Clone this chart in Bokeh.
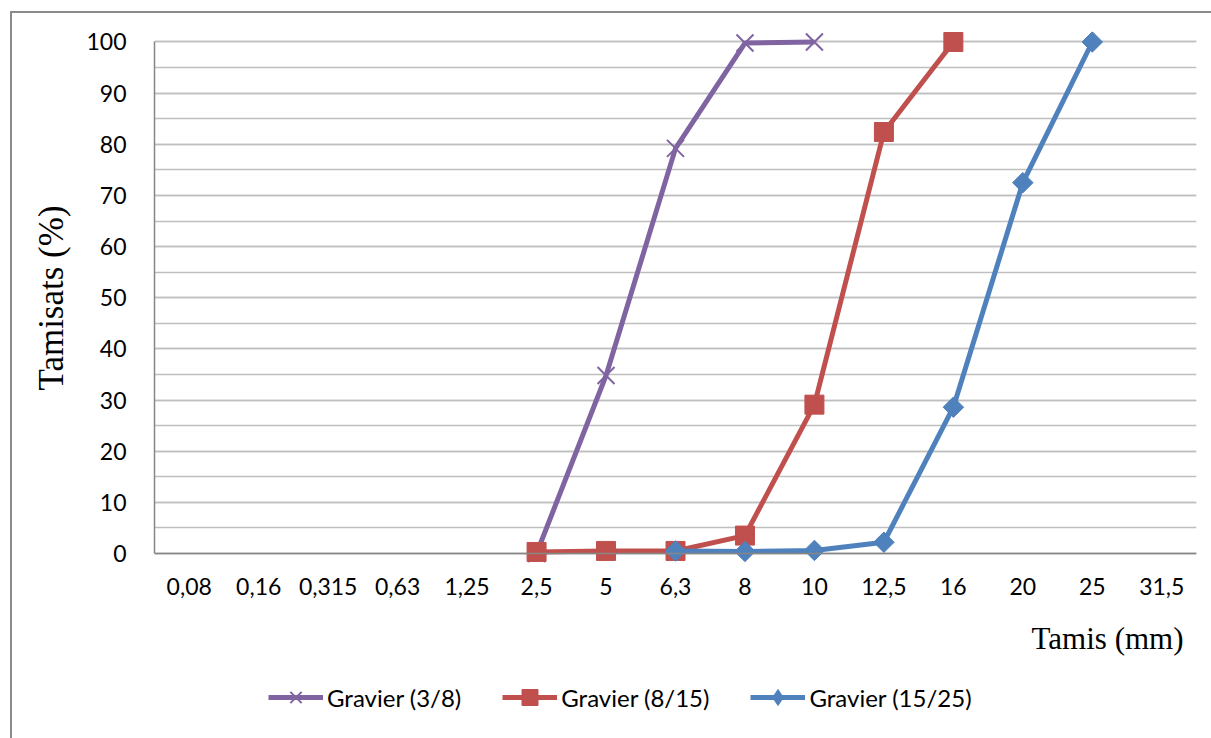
import math

from bokeh.embed import file_html
from bokeh.layouts import column
from bokeh.models import (FactorRange, Legend, LegendItem, Range1d,
                          SingleIntervalTicker, Span, Title)
from bokeh.plotting import figure
from bokeh.resources import INLINE

# Sieve openings (mm) used as the category axis
sieves = ["0,08", "0,16", "0,315", "0,63", "1,25", "2,5", "5", "6,3",
          "8", "10", "12,5", "16", "20", "25", "31,5"]

# Passing percentages for each gravel fraction
g38_sieves = ["2,5", "5", "6,3", "8", "10"]
g38_pass = [0.0, 34.8, 79.2, 99.8, 100.0]

g815_sieves = ["2,5", "5", "6,3", "8", "10", "12,5", "16"]
g815_pass = [0.3, 0.5, 0.5, 3.5, 29.1, 82.4, 100.0]

g1525_sieves = ["6,3", "8", "10", "12,5", "16", "20", "25"]
g1525_pass = [0.5, 0.4, 0.6, 2.2, 28.6, 72.5, 100.0]

series_names = ["Gravier (3/8)", "Gravier (8/15)", "Gravier (15/25)"]

y_ticks_step = 10

PURPLE = "#8064A2"
RED = "#C0504D"
BLUE = "#4F81BD"
AXIS_GREY = "#868686"
GRID_GREY = "#BFBFBF"
SANS = "Lato"
SERIF = "Liberation Serif"
LINE_W = 5

series_x = [g38_sieves, g815_sieves, g1525_sieves]
series_y = [g38_pass, g815_pass, g1525_pass]
colors = [PURPLE, RED, BLUE]
# marker styles per series (chart)
styles = [
    dict(marker="x", size=24, line_color=PURPLE, line_width=2),
    dict(marker="square", size=19, fill_color=RED, line_color=RED),
    dict(marker="square", angle=math.pi / 4, size=14.5, fill_color=BLUE, line_color=BLUE),
]
# legend keys (the legend sizes markers itself and draws them unrotated)
key_styles = [
    dict(marker="x", line_color=PURPLE, line_width=2),
    dict(marker="square", fill_color=RED, line_color=RED),
    dict(marker="diamond", fill_color=BLUE, line_color=BLUE),
]

p = figure(
    width=1199, height=664,
    x_range=FactorRange(*sieves),
    y_range=Range1d(-2.15, 102.05),
    output_backend="svg", toolbar_location=None,
    min_border_left=142, min_border_right=15,
    min_border_top=18, min_border_bottom=113,
)
p.outline_line_color = None
p.background_fill_color = "white"
p.border_fill_color = "white"

# y axis
p.yaxis.ticker = SingleIntervalTicker(interval=y_ticks_step, num_minor_ticks=2)
p.yaxis.bounds = (0, 100)
p.yaxis.axis_line_color = AXIS_GREY
p.yaxis.axis_line_width = 1.5
p.yaxis.major_tick_line_color = None
p.yaxis.minor_tick_line_color = None
p.yaxis.major_tick_out = 0
p.yaxis.major_label_standoff = 24
p.yaxis.major_label_text_font = SANS
p.yaxis.major_label_text_font_size = "23px"
p.yaxis.major_label_text_color = "black"
p.yaxis.axis_label = "Tamisats (%)"
p.yaxis.axis_label_text_font = SERIF
p.yaxis.axis_label_text_font_style = "normal"
p.yaxis.axis_label_text_font_size = "35px"
p.yaxis.axis_label_text_color = "black"
p.yaxis.axis_label_standoff = 12

# x axis
p.xaxis.axis_line_color = None
p.xaxis.major_tick_line_color = None
p.xaxis.minor_tick_line_color = None
p.xaxis.major_tick_out = 0
p.xaxis.major_label_standoff = 13
p.xaxis.major_label_text_font = SANS
p.xaxis.major_label_text_font_size = "23px"
p.xaxis.major_label_text_color = "black"

# grid
p.xgrid.grid_line_color = None
p.ygrid.grid_line_color = GRID_GREY
p.ygrid.grid_line_width = 1.3
p.ygrid.minor_grid_line_color = GRID_GREY
p.ygrid.minor_grid_line_width = 1.3
p.ygrid.bounds = (0, 100)

# horizontal axis line at 0 %
p.add_layout(Span(location=0, dimension="width", line_color=AXIS_GREY, line_width=1.5))

# curves
for xs, ys, col, st in zip(series_x, series_y, colors, styles):
    p.line(xs, ys, line_color=col, line_width=LINE_W)
    p.scatter(xs, ys, **st)

# x axis title, right aligned under the axis
p.add_layout(Title(text="Tamis (mm)", align="right", text_font=SERIF,
                   text_font_size="31px", text_font_style="normal",
                   text_color="black", offset=13, standoff=43), "below")

# legend strip below the chart; its y range lies above 100 % so the
# series it carries stay out of view and only the legend keys show
leg = figure(
    width=1199, height=61,
    x_range=FactorRange(*sieves), y_range=Range1d(200, 300),
    x_axis_type=None, y_axis_type=None,
    output_backend="svg", toolbar_location=None,
    min_border_left=142, min_border_right=15, min_border_top=0, min_border_bottom=0,
)
leg.outline_line_color = None
leg.xgrid.visible = False
leg.ygrid.visible = False

items = []
for name, xs, ys, col, st in zip(series_names, series_x, series_y, colors, key_styles):
    lr = leg.line(xs, ys, line_color=col, line_width=LINE_W)
    sr = leg.scatter(xs, ys, **st)
    items.append(LegendItem(label=name, renderers=[lr, sr]))

legend = Legend(
    items=items,
    orientation="horizontal", location=(114, 21),
    border_line_color=None, background_fill_alpha=0,
    padding=0, margin=0, spacing=41, label_standoff=4,
    glyph_width=55, glyph_height=40,
    label_text_font=SANS, label_text_font_size="24px",
    label_text_color="black", label_text_baseline="middle",
)
leg.add_layout(legend, "center")

layout = column(p, leg, spacing=0)
layout.margin = (11, 0, 0, 10)
layout.styles = {"border-left": "2px solid #8A8A8A", "border-top": "2px solid #8A8A8A"}

open("out.html", "w").write(file_html(layout, INLINE))
